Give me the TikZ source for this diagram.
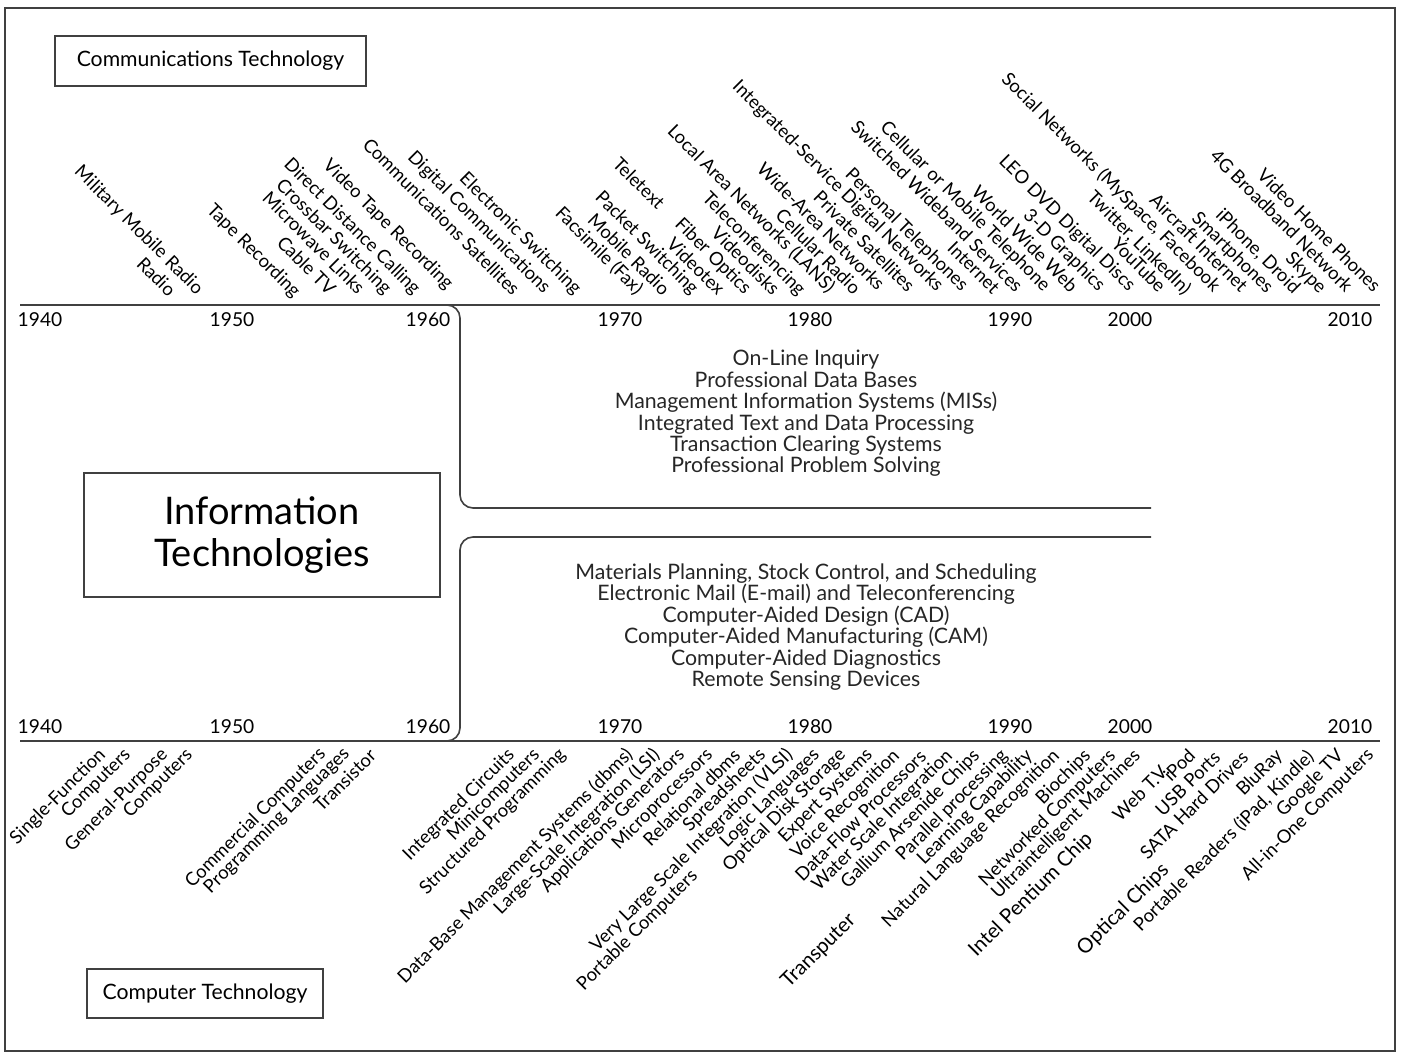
\documentclass[tikz,border=0pt]{standalone}
\usepackage{fontspec}
\setmainfont{Lato}
\usepackage{tikz}
\usetikzlibrary{positioning}

\begin{document}
\begin{tikzpicture}[x=0.5pt,y=-0.5pt]
  \tikzset{tag/.style  = {draw=black!75,line width=0.7pt,inner sep=0pt,
                          font=\fontsize{10.6}{12}\selectfont},
           year/.style = {inner sep=0pt,font=\fontsize{9.6}{11}\selectfont},
           comm/.style = {rotate=-45,anchor=east,inner sep=0pt,
                          font=\fontsize{9.2}{10}\selectfont},
           comp/.style = {rotate=45,anchor=east,inner sep=0pt,
                          font=\fontsize{9.2}{10}\selectfont},
           compbig/.style = {comp,font=\fontsize{10.2}{11}\selectfont},
           axis/.style = {draw=black!75,line width=0.8pt},
           apps/.style = {align=center,text=black!85,
                          font=\fontsize{10.65}{10.7}\selectfont}}
  \useasboundingbox (0,0) rectangle (1403,1059);
  \draw[black!75,line width=0.7pt] (5,8) rectangle (1395,1051);

  \node[tag,minimum width=155.5pt,minimum height=25pt] (commtech) at (210.5,61)
    {Communications Technology};
  \node[tag,minimum width=118pt,minimum height=24.5pt] (comptech) at (205,993.5)
    {Computer Technology};
  \node[tag,align=center,minimum width=178pt,minimum height=62pt,
        font=\fontsize{19}{21}\selectfont] (infotech) at (262,535)
    {Information\\Technologies};

  % time axes
  \coordinate (commstart) at (20,305);
  \coordinate (commend)   at (1380,305);
  \coordinate (compstart) at (20,741);
  \coordinate (compend)   at (1380,741);
  \draw[axis] (commstart) -- (commend);
  \draw[axis] (compstart) -- (compend);
  \foreach \yr/\x in {1940/40,1950/232,1960/428,1970/620,
                      1980/810,1990/1010,2000/1130,2010/1350}{
    \node[year] (t\yr) at (\x,320) {\yr};
    \node[year] (b\yr) at (\x,727) {\yr};
  }

  % brackets from 1960 on
  \coordinate (misend) at (1151,508);
  \coordinate (cadend) at (1151,537);
  \draw[axis,rounded corners=6.5pt] (447,305) -| (460,508) -- (misend);
  \draw[axis,rounded corners=6.5pt] (cadend) -- (460,537) |- (447,741);

  \node[apps] (mis) at (806,413.5)
    {On-Line Inquiry\\Professional Data Bases\\
     Management Information Systems (MISs)\\
     Integrated Text and Data Processing\\
     Transaction Clearing Systems\\Professional Problem Solving};
  \node[apps] (cad) at (806,627)
    {Materials Planning, Stock Control, and Scheduling\\
     Electronic Mail (E-mail) and Teleconferencing\\
     Computer-Aided Design (CAD)\\
     Computer-Aided Manufacturing (CAM)\\
     Computer-Aided Diagnostics\\Remote Sensing Devices};

  % communications technology
  \foreach \x/\y/\txt [count=\i] in {
      200/292/Military Mobile Radio, 173/293/Radio,
      297/295/Tape Recording, 333/292/Cable TV,
      362/291/Microwave Links, 388/292/Crossbar Switching,
      417/292/Direct Distance Calling, 450/287/Video Tape Recording,
      517/292/Communications Satellites, 547/291/Digital Communications,
      578/292/Electronic Switching, 640/292/Facsimile (Fax),
      667/292/Mobile Radio, 695/292/Packet Switching,
      662/206/Teletext, 722/292/Videotex,
      748/292/Fiber Optics, 777/292/Videodisks,
      802/293/Teleconferencing, 832/290/Local Area Networks (LANS),
      858/291/Cellular Radio, 882/287/Wide-Area Networks,
      912/289/Private Satellites, 940/289/Integrated-Service Digital Networks,
      965/289/Personal Telephones, 997/291/Internet,
      1020/289/Switched Wideband Services, 1047/289/Cellular or Mobile Telephone,
      1075/289/World Wide Web, 1102/289/3-D Graphics,
      1132/289/LEO DVD Digital Discs, 1163/289/YouTube,
      1188/292/{Twitter, LinkedIn)}, 1217/289/{Social Networks (MySpace, Facebook},
      1245/289/Aircraft Internet, 1270/291/Smartphones,
      1297/291/{iPhone, Droid}, 1323/291/Skype,
      1350/289/4G Broadband Network, 1378/289/Video Home Phones}
    \node[comm] (cm\i) at (\x,\y) {\txt};

  % computer technology
  \foreach \x/\y/\txt [count=\i] in {
      103/752/Single-Function, 128/752/Computers,
      165/752/General-Purpose, 190/752/Computers,
      323/751/Commercial Computers, 347/751/Programming Languages,
      373/752/Transistor, 512/752/Integrated Circuits,
      537/752/Minicomputers, 563/752/Structured Programming,
      630/752/Data-Base Management Systems (dbms), 657/752/Large-Scale Integration (LSI),
      682/752/Applications Generators, 710/752/Microprocessors,
      737/752/Relational dbms, 763/752/Spreadsheets,
      790/752/Very Large Scale Integration (VLSI), 695/873/Portable Computers,
      817/752/Logic Languages, 843/752/Optical Disk Storage,
      870/752/Expert Systems, 897/753/Voice Recognition,
      923/753/Data-Flow Processors, 950/753/Water Scale Integration,
      977/753/Gallium Arsenide Chips, 1005/753/Parallel processing,
      1030/753/Learning Capability, 1057/753/Natural Language Recognition,
      1088/753/Biochips, 1113/753/Networked Computers,
      1138/753/Ultraintelligent Machines, 1166/767/Web T.V.,
      1192/752/iPod, 1217/754/USB Ports,
      1245/754/SATA Hard Drives, 1280/753/BluRay,
      1311/754/{Portable Readers (iPad, Kindle)}, 1341/753/Google TV,
      1371/752/All-in-One Computers}
    \node[comp] (cp\i) at (\x,\y) {\txt};
  \node[compbig] (transputer) at (853,917) {Transputer};
  \node[compbig] (pentium) at (1090,836) {Intel Pentium Chip};
  \node[compbig] (opticalchips) at (1166,867) {Optical Chips};
\end{tikzpicture}
\end{document}
